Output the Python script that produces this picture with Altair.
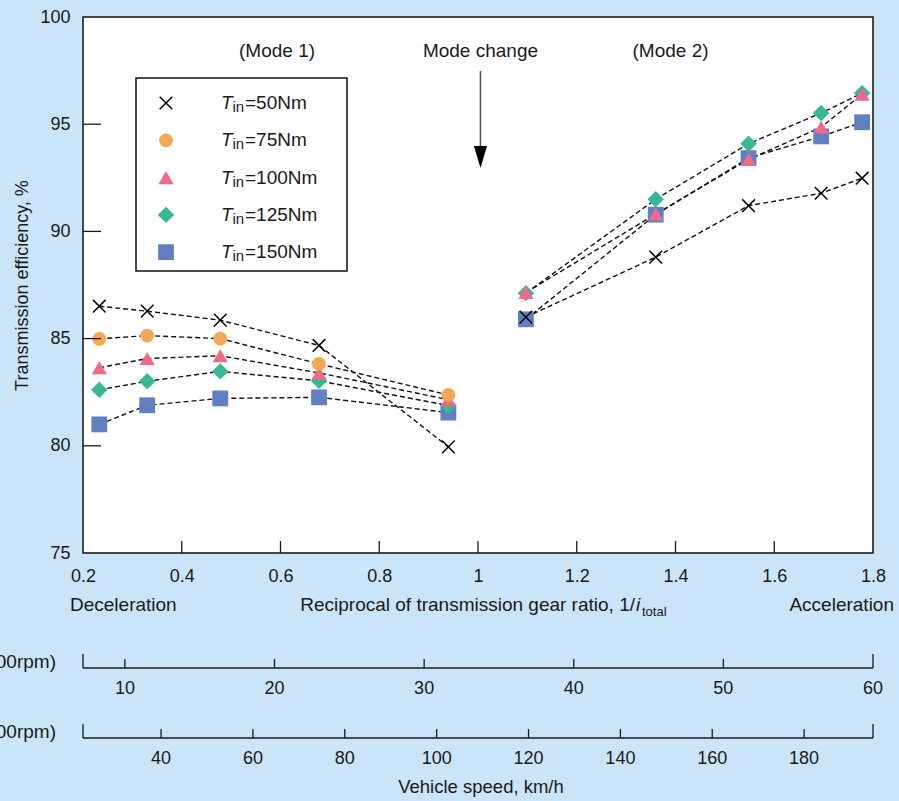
import altair as alt
import pandas as pd

FONT = "Liberation Sans, Arial, Helvetica, sans-serif"
INK = "#1a1a1a"
W, H = 790, 536
FS = 19      # captions / annotations
TFS = 18     # tick labels

# ---------------- data ----------------
series_names = ["50Nm", "75Nm", "100Nm", "125Nm", "150Nm"]
x_mode1 = [0.233, 0.330, 0.478, 0.678, 0.940]
x_mode2 = [1.097, 1.360, 1.548, 1.695, 1.778]

eff_50_m1 = [86.51, 86.28, 85.86, 84.68, 79.95]
eff_50_m2 = [86.0, 88.8, 91.2, 91.78, 92.48]
eff_75_m1 = [84.99, 85.14, 85.00, 83.82, 82.37]
eff_100_m1 = [83.64, 84.07, 84.20, 83.40, 82.15]
eff_100_m2 = [87.15, 90.81, 93.36, 94.86, 96.40]
eff_125_m1 = [82.61, 83.01, 83.47, 83.03, 81.88]
eff_125_m2 = [87.12, 91.5, 94.09, 95.52, 96.45]
eff_150_m1 = [81.00, 81.89, 82.21, 82.26, 81.55]
eff_150_m2 = [85.9, 90.78, 93.42, 94.43, 95.09]

x_ticks = [0.2, 0.4, 0.6, 0.8, 1, 1.2, 1.4, 1.6, 1.8]
y_ticks = [75, 80, 85, 90, 95, 100]
rpm_ticks = [10, 20, 30, 40, 50, 60]
rpm_domain = [7.2, 60]
kmh_ticks = [40, 60, 80, 100, 120, 140, 160, 180]
kmh_domain = [23, 195]

mode_labels = ["(Mode 1)", "Mode change", "(Mode 2)"]
mode_x = [0.593, 1.005, 1.39]

rows = []
def add(series, mode, xs, ys):
    for xv, yv in zip(xs, ys):
        rows.append(dict(series=series, grp=f"{series}-{mode}", x=xv, eff=yv))

add("50Nm", 1, x_mode1, eff_50_m1)
add("50Nm", 2, x_mode2, eff_50_m2)
add("75Nm", 1, x_mode1, eff_75_m1)
add("100Nm", 1, x_mode1, eff_100_m1)
add("100Nm", 2, x_mode2, eff_100_m2)
add("125Nm", 1, x_mode1, eff_125_m1)
add("125Nm", 2, x_mode2, eff_125_m2)
add("150Nm", 1, x_mode1, eff_150_m1)
add("150Nm", 2, x_mode2, eff_150_m2)
df = pd.DataFrame(rows)

# ---------------- scales / encodings ----------------
xs = alt.Scale(domain=[0.2, 1.8], nice=False, zero=False)
ys = alt.Scale(domain=[75, 100], nice=False, zero=False)
x_axis = alt.Axis(values=x_ticks, format="~g", title=None, ticks=False, tickSize=0,
                  domain=False, grid=False, labelFontSize=TFS, labelPadding=14,
                  labelFlush=False, labelOverlap=False,
                  labelFont=FONT, labelColor=INK)
y_axis = alt.Axis(values=y_ticks, format="d", title="Transmission efficiency, %",
                  ticks=False, tickSize=0, domain=False, grid=False,
                  labelFontSize=TFS, labelPadding=13, labelFont=FONT, labelColor=INK,
                  labelFlush=False, labelOverlap=False,
                  titleFont=FONT, titleFontSize=18, titleFontWeight="normal",
                  titleColor=INK, titlePadding=8)

def X(field):
    return alt.X(field, type="quantitative", scale=xs, axis=x_axis)

def Y(field):
    return alt.Y(field, type="quantitative", scale=ys, axis=y_axis)

base = alt.Chart(df)

lines = base.mark_line(strokeDash=[5, 3], color="#111", strokeWidth=1.4).encode(
    x=X("x"), y=Y("eff"), detail="grp:N", order="x:Q")

X_PATH = "M-1,-1L1,1M-1,1L1,-1"
marker = {
    "150Nm": dict(shape="square", color="#6180c2", size=250, filled=True),
    "125Nm": dict(shape="diamond", color="#37b894", size=270, filled=True),
    "100Nm": dict(shape="triangle-up", color="#ee6a87", size=230, filled=True),
    "75Nm": dict(shape="circle", color="#f3a953", size=190, filled=True),
}

point_layers = []
for s in ["150Nm", "125Nm", "100Nm", "75Nm"]:
    m = marker[s]
    point_layers.append(
        base.transform_filter(alt.datum.series == s).mark_point(
            shape=m["shape"], color=m["color"], size=m["size"], filled=True,
            opacity=1, strokeWidth=0).encode(x=X("x"), y=Y("eff")))
point_layers.append(
    base.transform_filter(alt.datum.series == "50Nm").mark_point(
        shape=X_PATH, color="black", size=160, filled=False, opacity=1,
        strokeWidth=1.5).encode(x=X("x"), y=Y("eff")))

# inward ticks of the main frame
xt = alt.Chart(pd.DataFrame({"t": x_ticks[1:-1]})).mark_rule(color=INK, strokeWidth=1.3).encode(
    x=X("t"), y=alt.value(H - 12), y2=alt.value(H))
yt = alt.Chart(pd.DataFrame({"t": y_ticks[1:-1]})).mark_rule(color=INK, strokeWidth=1.3).encode(
    y=Y("t"), x=alt.value(0), x2=alt.value(18))

# mode annotations
mode_df = pd.DataFrame({"label": mode_labels, "mx": mode_x})
mode_text = alt.Chart(mode_df).mark_text(font=FONT, fontSize=FS, color=INK, align="center",
                                         baseline="middle").encode(
    x=X("mx"), y=alt.value(34), text="label:N")
arrow_df = pd.DataFrame({"mx": [mode_x[1]]})
arrow_line = alt.Chart(arrow_df).mark_rule(color="#555", strokeWidth=1.6).encode(
    x=X("mx"), y=alt.value(54), y2=alt.value(132))
arrow_head = alt.Chart(arrow_df).mark_point(shape="M-0.6,-1L0.6,-1L0,1Z", size=484,
                                            filled=True, color="black", opacity=1,
                                            strokeWidth=0).encode(
    x=X("mx"), y=alt.value(140))

# legend
legend_layers = [
    alt.Chart(pd.DataFrame({"a": [0]})).mark_rect(fill="white", stroke="#111",
                                                  strokeWidth=1.5).encode(
        x=alt.value(53), x2=alt.value(264), y=alt.value(61), y2=alt.value(254))
]
row_y0, row_dy = 86, 37.3
for i, s in enumerate(series_names):
    yy = row_y0 + i * row_dy
    one = alt.Chart(pd.DataFrame({"T": ["T"], "sub": ["in"], "rest": ["=" + s]}))
    if s == "50Nm":
        sym = one.mark_point(shape=X_PATH, color="black", size=160, filled=False,
                             opacity=1, strokeWidth=1.5)
    else:
        m = marker[s]
        sym = one.mark_point(shape=m["shape"], color=m["color"], size=m["size"],
                             filled=True, opacity=1, strokeWidth=0)
    legend_layers.append(sym.encode(x=alt.value(83), y=alt.value(yy)))
    legend_layers.append(one.mark_text(font=FONT, fontSize=FS, fontStyle="italic", color=INK,
                                       align="left", baseline="middle").encode(
        x=alt.value(138), y=alt.value(yy), text="T:N"))
    legend_layers.append(one.mark_text(font=FONT, fontSize=15, color=INK,
                                       align="left", baseline="middle").encode(
        x=alt.value(149.5), y=alt.value(yy + 4), text="sub:N"))
    legend_layers.append(one.mark_text(font=FONT, fontSize=FS, color=INK,
                                       align="left", baseline="middle").encode(
        x=alt.value(162), y=alt.value(yy), text="rest:N"))

# x-axis captions
cap = lambda txt: alt.Chart(pd.DataFrame({"t": [txt]}))
captions = [
    cap("Deceleration").mark_text(font=FONT, fontSize=FS, color=INK, align="left",
                                  baseline="alphabetic").encode(
        x=alt.value(-13), y=alt.value(594), text="t:N"),
    cap("Acceleration").mark_text(font=FONT, fontSize=FS, color=INK, align="right",
                                  baseline="alphabetic").encode(
        x=alt.value(811), y=alt.value(594), text="t:N"),
    cap("Reciprocal of transmission gear ratio, 1/").mark_text(
        font=FONT, fontSize=FS, color=INK, align="right", baseline="alphabetic").encode(
        x=alt.value(552), y=alt.value(594), text="t:N"),
    cap("i").mark_text(font=FONT, fontSize=FS, fontStyle="italic", color=INK, align="left",
                       baseline="alphabetic").encode(
        x=alt.value(553), y=alt.value(594), text="t:N"),
    cap("total").mark_text(font=FONT, fontSize=13, color=INK, align="left",
                           baseline="alphabetic").encode(
        x=alt.value(559), y=alt.value(599), text="t:N"),
]

# secondary speed scales (mapped onto the main x range)
def speed_axis(ticks, domain, base_y, side_label):
    lo, hi = domain
    expr = f"0.2 + (datum.v - {lo}) * 1.6 / ({hi} - {lo})"
    tdf = alt.Chart(pd.DataFrame({"v": ticks})).transform_calculate(px=expr)
    inner = [t for t in ticks if lo < t < hi]
    idf = alt.Chart(pd.DataFrame({"v": inner})).transform_calculate(px=expr)
    edf = alt.Chart(pd.DataFrame({"v": domain})).transform_calculate(px=expr)
    return [
        alt.Chart(pd.DataFrame({"a": [0]})).mark_rule(color=INK, strokeWidth=1.5).encode(
            x=alt.value(0), x2=alt.value(W), y=alt.value(base_y)),
        idf.mark_rule(color=INK, strokeWidth=1.3).encode(
            x=X("px:Q"), y=alt.value(base_y - 9), y2=alt.value(base_y)),
        edf.mark_rule(color=INK, strokeWidth=1.3).encode(
            x=X("px:Q"), y=alt.value(base_y - 14), y2=alt.value(base_y)),
        tdf.mark_text(font=FONT, fontSize=TFS, color=INK, align="center",
                      baseline="middle").encode(
            x=X("px:Q"), y=alt.value(base_y + 21), text="v:N"),
        cap(side_label).mark_text(font=FONT, fontSize=FS, color=INK, align="right",
                                  baseline="middle").encode(
            x=alt.value(-27), y=alt.value(base_y - 6), text="t:N"),
    ]

rpm_layers = speed_axis(rpm_ticks, rpm_domain, 651, "(Mode 1 @1000rpm)")
kmh_layers = speed_axis(kmh_ticks, kmh_domain, 721, "(Mode 2 @1000rpm)")
vs_title = cap("Vehicle speed, km/h").mark_text(font=FONT, fontSize=18.5, color=INK,
                                                align="center", baseline="middle").encode(
    x=alt.value(398), y=alt.value(770), text="t:N")

chart = alt.layer(
    *([lines] + point_layers + [xt, yt, mode_text, arrow_line, arrow_head]
      + legend_layers + captions + rpm_layers + kmh_layers + [vs_title])
).properties(
    width=W, height=H,
    background="#cae5f7",
    padding={"left": 83, "top": 17, "right": 26, "bottom": 248},
    autosize=alt.AutoSizeParams(type="none"),
).configure_view(
    fill="white", stroke="#111", strokeWidth=1.5
)

chart.save("out.html", embed_options={"renderer": "svg", "actions": False})
